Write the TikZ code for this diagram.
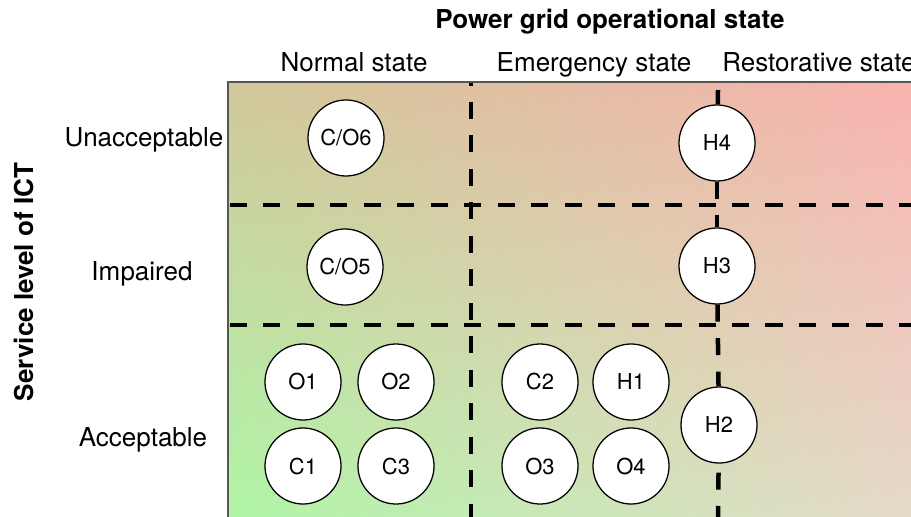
\documentclass[tikz,border=0pt]{standalone}
\usepackage{fontspec}
\setmainfont{TeX Gyre Heros}
\usepackage{tikz}
\definecolor{gridTL}{RGB}{209,200,154}
\definecolor{gridTR}{RGB}{249,179,176}
\definecolor{gridBL}{RGB}{176,245,168}
\definecolor{gridBR}{RGB}{230,218,200}
\definecolor{boxedge}{RGB}{85,88,80}

\begin{document}
\begin{tikzpicture}[x=0.025cm,y=-0.025cm,
    lbl/.style={inner sep=0,anchor=base,font=\fontsize{18.5}{22}\selectfont},
    bold lbl/.style={lbl,font=\fontsize{18.5}{22}\selectfont\bfseries},
    scen/.style={circle,draw=black,line width=0.9pt,fill=white,minimum size=1.9cm,inner sep=0,font=\fontsize{15.6}{18}\selectfont},
    divider/.style={line width=3.2pt,dash pattern=on 12.1pt off 11.7pt}]
      \useasboundingbox (0,0) rectangle (911,517);
      \foreach \i in {0,...,86} {
        \pgfmathsetmacro{\p}{100*\i/86}
        \fill[left color=gridBL!\p!gridTL,right color=gridBR!\p!gridTR] (228,82+5*\i) rectangle (911,88+5*\i);
      }
      \begin{scope}
        \clip (228,82) rectangle (911,517);
        \draw[divider] (471,68.5) -- (471,530);
        \draw[divider] (230,205) -- (930,205);
        \draw[divider] (230,325) -- (930,325);
      \end{scope}
      \draw[boxedge,line width=1.4pt] (228,517) -- (228,82) -- (911,82);
      \node[bold lbl] (title) at (610,29) {Power grid operational state};
      \node[lbl] (normal) at (354,72) {Normal state};
      \node[lbl] (emerg) at (594,72) {Emergency state};
      \node[lbl,anchor=base west] (restor) at (722,72) {Restorative state};
      \node[bold lbl,rotate=90] (ict) at (33,282) {Service level of ICT};
      \node[lbl] (unacc) at (144,147) {Unacceptable};
      \node[lbl] (impair) at (142,280) {Impaired};
      \node[lbl] (acc) at (143,446) {Acceptable};
      \node[scen] (co6) at (346,138) {C/O6};
      \node[scen] (co5) at (345,267) {C/O5};
      \node[scen] (o1) at (303,382) {O1};
      \node[scen] (o2) at (396,382) {O2};
      \node[scen] (c1) at (303,466) {C1};
      \node[scen] (c3) at (396,466) {C3};
      \node[scen] (c2) at (540,382) {C2};
      \node[scen] (h1) at (631,382) {H1};
      \node[scen] (o3) at (540,466) {O3};
      \node[scen] (o4) at (631,466) {O4};
      \node[scen] (h4) at (717,143) {H4};
      \node[scen] (h3) at (717,266) {H3};
      \node[scen] (h2) at (719,425) {H2};
      \coordinate (vtop) at (718,90);
      \coordinate (vbot) at (718,523);
      \draw[divider] (vtop) -- (h4);
      \draw[divider] (h4) -- (h3);
      \draw[divider] (h3) -- (h2);
      \draw[divider] (vbot) -- (h2);
\end{tikzpicture}
\end{document}
